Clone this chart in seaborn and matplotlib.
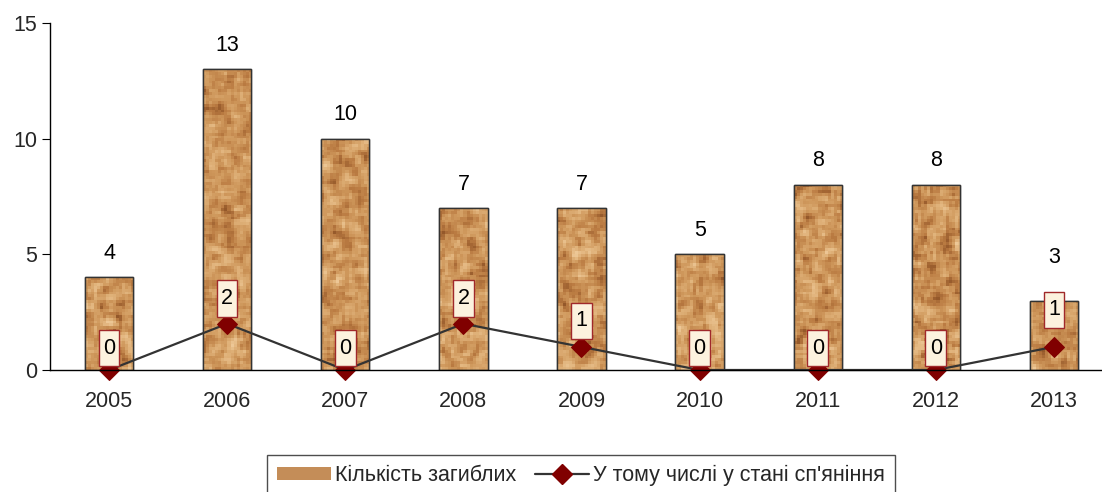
import numpy as np
import pandas as pd
import matplotlib
matplotlib.use("Agg")
import matplotlib.pyplot as plt
from matplotlib.patches import Patch, Rectangle
from matplotlib.lines import Line2D
from matplotlib.path import Path
from matplotlib.colors import LinearSegmentedColormap
import seaborn as sns

years = ["2005", "2006", "2007", "2008", "2009", "2010", "2011", "2012", "2013"]
deaths = [4, 13, 10, 7, 7, 5, 8, 8, 3]
drunk = [0, 2, 0, 2, 1, 0, 0, 0, 1]
bar_label = "Кількість загиблих"
line_label = "У тому числі у стані сп'яніння"

# label offsets above marks (pixels) – layout only
bar_lab_off = [24, 24, 24, 24, 24, 24, 24, 24, 43]
box_lab_off = [22, 25, 22, 25, 26, 22, 22, 22, 37]

sns.set_style("white")
plt.rcParams["font.family"] = ["Liberation Sans", "DejaVu Sans"]
FS = 15.5

fig = plt.figure(figsize=(11.02, 4.92), dpi=100)
ax = fig.add_axes([50/1102, 1-370/492, 1063/1102, (370-23)/492])

df = pd.DataFrame({"year": years, "deaths": deaths, "drunk": drunk})
sns.barplot(data=df, x="year", y="deaths", ax=ax, width=0.41,
            color="#C8925C", edgecolor="#333333", linewidth=1.0, saturation=1)

# cork-like texture clipped to each bar
rng = np.random.default_rng(7)
cork = LinearSegmentedColormap.from_list(
    "cork", ["#94582A", "#BA7B42", "#CF985C", "#E0B27A", "#EDC796"])
for p in list(ax.patches):
    bb = p.get_bbox()
    rows = max(int(bb.height * 8), 4)
    cols = 16
    noise = rng.random((rows + 2, cols + 2))
    sm = sum(noise[i:i+rows, j:j+cols] for i in range(3) for j in range(3)) / 9
    sm = (sm - sm.min()) / (sm.max() - sm.min())
    im = ax.imshow(sm, cmap=cork, extent=[bb.x0, bb.x1, bb.y0, bb.y1],
                   aspect="auto", interpolation="nearest", zorder=2.1)
    im.set_clip_path(p)
    ax.add_patch(Rectangle((bb.x0, bb.y0), bb.width, bb.height, fill=False,
                           edgecolor="#333333", linewidth=1.0, zorder=2.2))

sns.lineplot(data=df, x="year", y="drunk", ax=ax, sort=False, color="#333333",
             linewidth=1.6, marker="D", markersize=10.5, markerfacecolor="#800000",
             markeredgecolor="#800000", zorder=5, clip_on=False)

for i, v in enumerate(deaths):
    ax.annotate(str(v), (i, v), xytext=(0, bar_lab_off[i] * 0.72),
                textcoords="offset points", ha="center", va="center",
                fontsize=FS, color="black")


def tall_box(x0, y0, width, height, mutation_size):
    px = 0.2 * mutation_size
    py = 0.36 * mutation_size
    x0, y0 = x0 - px, y0 - py
    x1, y1 = x0 + width + 2 * px, y0 + height + 2 * py
    return Path([(x0, y0), (x1, y0), (x1, y1), (x0, y1), (x0, y0)],
                [Path.MOVETO, Path.LINETO, Path.LINETO, Path.LINETO, Path.CLOSEPOLY])


for i, v in enumerate(drunk):
    ax.annotate(str(v), (i, v), xytext=(0, box_lab_off[i] * 0.72),
                textcoords="offset points", ha="center", va="center",
                fontsize=FS, color="black", zorder=6,
                bbox=dict(boxstyle=tall_box, facecolor="#FCF2DE",
                          edgecolor="#A0282A", linewidth=1))

ax.set_xlim(-0.5, 8.5)
ax.set_ylim(0, 15)
ax.set_yticks([0, 5, 10, 15])
ax.set_xlabel("")
ax.set_ylabel("")
for s in ["top", "right"]:
    ax.spines[s].set_visible(False)
for s in ["left", "bottom"]:
    ax.spines[s].set_color("black")
    ax.spines[s].set_linewidth(1)
    ax.spines[s].set_zorder(7)
ax.set_xticks(np.arange(-0.5, 8.5, 1), minor=True)
ax.tick_params(axis="x", which="major", length=0, labelsize=FS, pad=15)
ax.tick_params(axis="x", which="minor", length=6, direction="out", color="black")
ax.tick_params(axis="y", length=6, direction="out", color="black", labelsize=FS,
               left=True, pad=3)

handles = [Patch(facecolor="#C48D58", edgecolor="none"),
           Line2D([0], [0], color="#333333", lw=1.6, marker="D", markersize=10.5,
                  markerfacecolor="#800000", markeredgecolor="#800000")]
leg = fig.legend(handles, [bar_label, line_label], loc="upper center",
                 bbox_to_anchor=(581/1102, 1-455/492), ncol=2, fontsize=FS,
                 frameon=True, fancybox=False, edgecolor="#222222",
                 handlelength=2.5, handleheight=0.55, handletextpad=0.2,
                 columnspacing=0.85, borderpad=0.45, borderaxespad=0)
leg.get_frame().set_linewidth(1)

fig.savefig("out.png", dpi=100)
